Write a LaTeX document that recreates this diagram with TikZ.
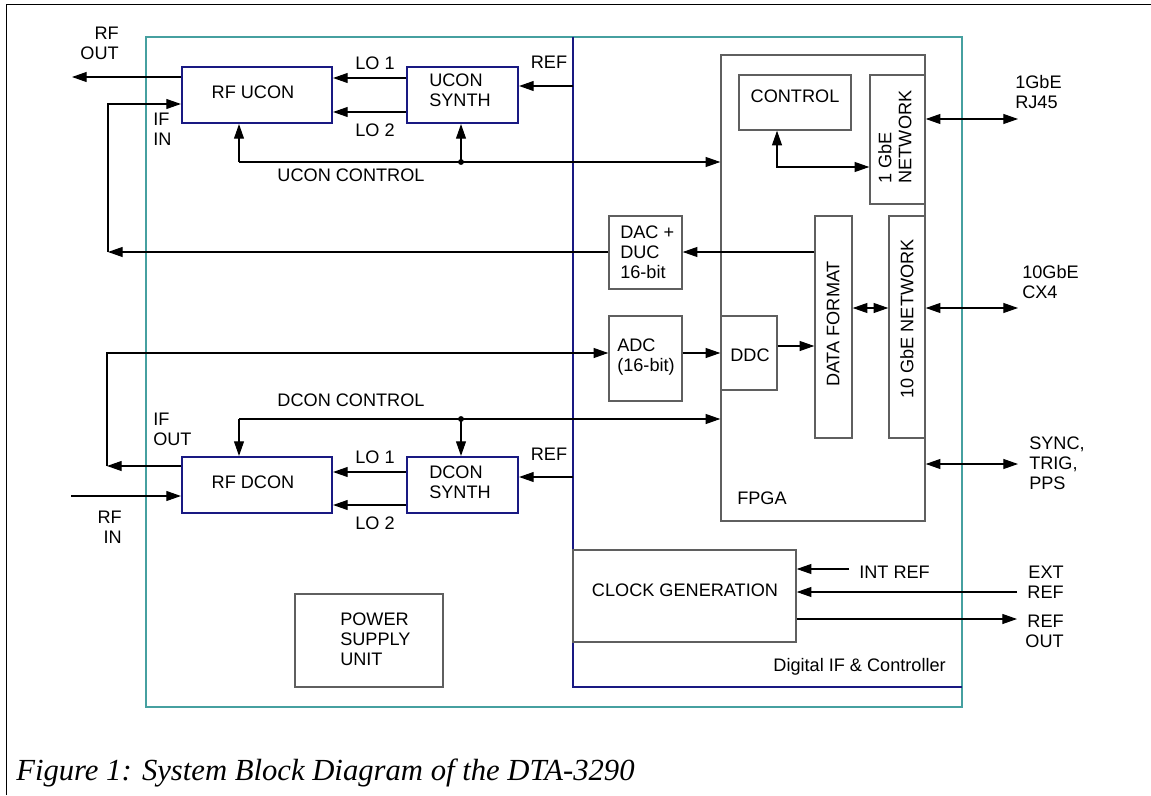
\documentclass[tikz,border=0pt]{standalone}
\usepackage{fontspec}
\setmainfont{Liberation Sans}
\newfontfamily\capfont{Liberation Serif}
\usetikzlibrary{arrows.meta,fit,calc}
\definecolor{chassis}{RGB}{70,160,160}
\definecolor{navy}{RGB}{25,25,130}
\definecolor{boxgray}{RGB}{95,95,95}
\tikzset{
  lf/.style={font=\fontsize{13.6}{15}\selectfont, inner sep=0pt},
  arr/.style={-{Triangle[length=11pt,width=7.5pt]}, line width=0.8pt},
  darr/.style={{Triangle[length=11pt,width=7.5pt]}-{Triangle[length=11pt,width=7.5pt]}, line width=0.8pt},
  nbox/.style={draw=navy, line width=1.6pt, inner sep=0pt},
  gbox/.style={draw=boxgray, line width=1.1pt, inner sep=0pt},
}
\begin{document}
\begin{tikzpicture}[x=0.75pt,y=-0.75pt]
\useasboundingbox (0,0) rectangle (1151,795);
% outer frame
\draw[line width=0.75pt] (6,795) -- (6,5) -- (1151,5);
% chassis and digital section
\node[draw=chassis, line width=2pt, inner sep=0pt, fit={(146,37) (962,707)}] (chassis) {};
\coordinate (difTL) at (573,37);
\coordinate (difBL) at (573,687);
\coordinate (difBR) at (962,687);
\draw[navy, line width=1.6pt] (difTL) -- (difBL) -- (difBR);

% RF boxes
\node[nbox, fit={(182,67) (332,123)}] (rfucon) {};
\node[lf] (rfuconT) at (253,92) {RF UCON};
\node[nbox, fit={(407,67) (518,123)}] (ucsyn) {};
\node[lf, align=left, anchor=west] (ucsynT) at (429,90) {UCON\\SYNTH};
\node[nbox, fit={(182,457) (332,513)}] (rfdcon) {};
\node[lf] (rfdconT) at (253,482) {RF DCON};
\node[nbox, fit={(407,457) (518,513)}] (dcsyn) {};
\node[lf, align=left, anchor=west] (dcsynT) at (429,482) {DCON\\SYNTH};

% digital boxes
\node[gbox, fit={(721,55) (925,521)}] (fpga) {};
\node[lf, anchor=west] (fpgaT) at (737,498) {FPGA};
\node[gbox, fit={(739,75) (851,130)}] (control) {};
\node[lf] (controlT) at (795,96) {CONTROL};
\node[gbox, fit={(870,75) (925,204)}] (gbe1) {};
\node[lf, rotate=90, align=left] (gbe1T) at (895,137) {1 GbE\\NETWORK};
\node[gbox, fit={(609,216) (682,289)}] (dac) {};
\node[lf, align=left, anchor=west] (dacT) at (620,252) {DAC +\\DUC\\16-bit};
\node[gbox, fit={(609,316) (682,401)}] (adc) {};
\node[lf, align=left, anchor=west] (adcT) at (617,357) {ADC\\(16-bit)};
\node[gbox, fit={(721,316) (777,390)}] (ddc) {};
\node[lf] (ddcT) at (750,355) {DDC};
\node[gbox, fit={(815,216) (852,438)}] (dfmt) {};
\node[lf, rotate=90] (dfmtT) at (833,324) {DATA FORMAT};
\node[gbox, fit={(889,216) (925,438)}] (gbe10) {};
\node[lf, rotate=90] (gbe10T) at (907,319) {10 GbE NETWORK};
\node[gbox, fit={(573,550) (796,642)}] (clk) {};
\node[lf] (clkT) at (685,590) {CLOCK GENERATION};
\node[gbox, fit={(295,594) (443,687)}] (psu) {};
\node[lf, align=left, anchor=west] (psuT) at (340,639) {POWER\\SUPPLY\\UNIT};

% labels
\node[lf, align=right, anchor=east] (rfoutT) at (119,43) {RF\\OUT};
\node[lf, align=left, anchor=west] (ifinT) at (153,129) {IF\\IN};
\node[lf] (lo1u) at (375,63) {LO 1};
\node[lf] (lo2u) at (375,130) {LO 2};
\node[lf] (refu) at (549,62) {REF};
\node[lf] (uctlT) at (351,175) {UCON CONTROL};
\node[lf] (dctlT) at (351,400) {DCON CONTROL};
\node[lf, align=left, anchor=west] (ifoutT) at (153,429) {IF\\OUT};
\node[lf, align=right, anchor=east] (rfinT) at (122,527) {RF\\IN};
\node[lf] (lo1d) at (375,457) {LO 1};
\node[lf] (lo2d) at (375,523) {LO 2};
\node[lf] (refd) at (549,454) {REF};
\node[lf, anchor=west] (intrefT) at (859,572) {INT REF};
\node[lf, align=right, anchor=east] (extrefT) at (1064,582) {EXT\\REF};
\node[lf, align=right, anchor=east] (refoutT) at (1064,631) {REF\\OUT};
\node[lf, anchor=east] (difT) at (946,667) {Digital IF \& Controller};
\node[lf, align=left, anchor=west] (rj45T) at (1015,92) {1GbE\\RJ45};
\node[lf, align=left, anchor=west] (cx4T) at (1022,282) {10GbE\\CX4};
\node[lf, align=left, anchor=west] (syncT) at (1029,463) {SYNC,\\TRIG,\\PPS};

% coordinates for free ends
\coordinate (rfoutE) at (72,77);
\coordinate (ifinTop) at (108,104);
\coordinate (ifinBot) at (108,252);
\coordinate (ifoutTop) at (107,353);
\coordinate (ifoutBot) at (107,466);
\coordinate (rfinE) at (71,496);
\coordinate (refuS) at (573,86);
\coordinate (refdS) at (573,477);
\coordinate (ucL) at (239,162);
\coordinate (ucJ) at (461,162);
\coordinate (dcL) at (239,419);
\coordinate (dcJ) at (461,419);
\coordinate (rj45E) at (1018,119);
\coordinate (cx4E) at (1018,308);
\coordinate (syncE) at (1018,464);
\coordinate (intrefS) at (849,569);
\coordinate (extrefS) at (1017,592);
\coordinate (refoutE) at (1017,619);

% up-converter connections
\draw[arr] (rfucon.west |- rfoutE) -- (rfoutE);
\draw[arr] (ucsyn.west |- 0,78) -- (rfucon.east |- 0,78);
\draw[arr] (ucsyn.west |- 0,112) -- (rfucon.east |- 0,112);
\draw[arr] (refuS) -- (ucsyn.east |- refuS);
\draw[arr] (dac.west |- ifinBot) -- (ifinBot);
\draw[arr] (ifinBot) -- (ifinTop) -- (rfucon.west |- ifinTop);
\draw[arr] (ucL) -- (fpga.west |- ucL);
\draw[arr] (ucL) -- (rfucon.south -| ucL);
\draw[arr] (ucJ) -- (ucsyn.south -| ucJ);
\fill (ucJ) circle (2.2pt);

% down-converter connections
\draw[arr] (rfdcon.west |- ifoutBot) -- (ifoutBot);
\draw[arr] (ifoutBot) -- (ifoutTop) -- (adc.west |- ifoutTop);
\draw[arr] (rfinE) -- (rfdcon.west |- rfinE);
\draw[arr] (dcsyn.west |- 0,472) -- (rfdcon.east |- 0,472);
\draw[arr] (dcsyn.west |- 0,505) -- (rfdcon.east |- 0,505);
\draw[arr] (refdS) -- (dcsyn.east |- refdS);
\draw[arr] (dcL) -- (fpga.west |- dcL);
\draw[arr] (dcL) -- (rfdcon.north -| dcL);
\draw[arr] (dcJ) -- (dcsyn.north -| dcJ);
\fill (dcJ) circle (2.2pt);

% digital connections
\draw[arr] (adc.east |- 0,353) -- (ddc.west |- 0,353);
\draw[arr] (ddc.east |- 0,346) -- (dfmt.west |- 0,346);
\draw[arr] (dfmt.west |- 0,252) -- (dac.east |- 0,252);
\draw[darr] (dfmt.east |- 0,308) -- (gbe10.west |- 0,308);
\draw[darr] (gbe10.east |- cx4E) -- (cx4E);
\draw[darr] (gbe1.east |- rj45E) -- (rj45E);
\draw[darr] (fpga.east |- syncE) -- (syncE);
\draw[darr] (control.south -| 777,0) |- (gbe1.west |- 0,167);

% clock connections
\draw[arr] (intrefS) -- (clk.east |- intrefS);
\draw[arr] (extrefS) -- (clk.east |- extrefS);
\draw[arr] (clk.east |- refoutE) -- (refoutE);

% caption
\node[anchor=base west, inner sep=0pt, font=\capfont\itshape\fontsize{23}{27}\selectfont] (caption) at (16,780) {Figure 1: System Block Diagram of the DTA-3290};
\end{tikzpicture}
\end{document}
